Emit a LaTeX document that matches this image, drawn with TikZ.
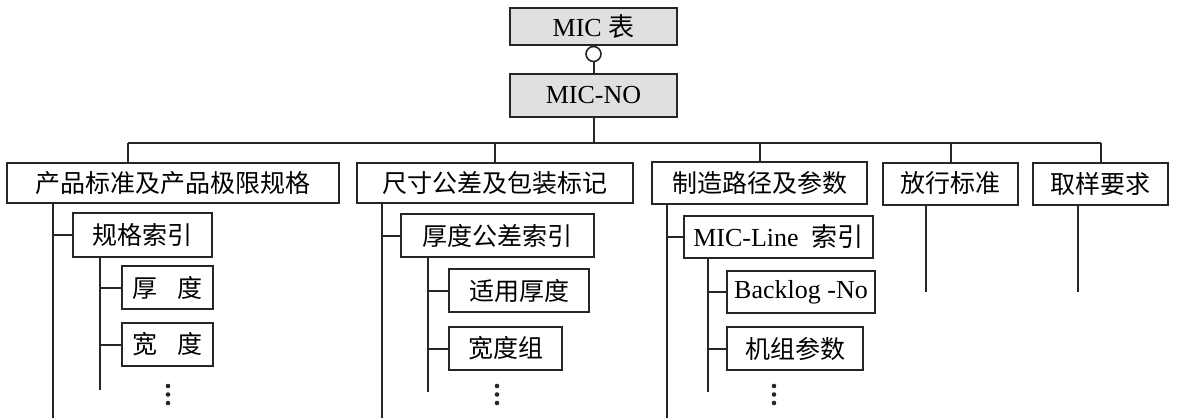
\documentclass[tikz,border=0pt]{standalone}
\usepackage{fontspec}
\setmainfont{Liberation Serif}
\newfontfamily\cjk{Noto Sans CJK SC}
\begin{document}
\begin{tikzpicture}[x=1pt,y=-1pt,
  box/.style={draw=black!85,line width=2pt,inner sep=0pt,align=center,
    font=\fontsize{25}{28}\selectfont\cjk},
  latinbox/.style={box,font=\fontsize{26}{28}\selectfont\rmfamily},
  headbox/.style={box,fill=black!12,font=\fontsize{26}{28}\selectfont\rmfamily},
  link/.style={line width=2pt,draw=black!85}]
\useasboundingbox (0,0) rectangle (1195,418);
% top
\node[headbox,minimum width=167pt,minimum height=37pt] (mic) at (593.5,26.5) {MIC {\cjk 表}};
\node[draw=black!85,line width=1.6pt,circle,inner sep=0pt,minimum size=15pt,fill=white] (ring) at (593.5,54) {};
\node[headbox,minimum width=167pt,minimum height=43pt] (micno) at (593.5,95.5) {MIC-NO};
\draw[link] (ring) -- (micno.north);
% level 1
\node[box,minimum width=332pt,minimum height=40pt] (b1) at (173,183) {产品标准及产品极限规格};
\node[box,minimum width=276pt,minimum height=40pt] (b2) at (495,183) {尺寸公差及包装标记};
\node[box,minimum width=215pt,minimum height=42pt] (b3) at (759.5,183) {制造路径及参数};
\node[box,minimum width=135pt,minimum height=42pt] (b4) at (950.5,183.5) {放行标准};
\node[box,minimum width=135pt,minimum height=42pt] (b5) at (1100.5,183.5) {取样要求};
\coordinate (bar) at (593.5,143);
\coordinate (j1) at (128,143);
\coordinate (j5) at (1100.5,143);
\draw[link] (micno.south) -- (bar);
\draw[link] (j1) -- (j5);
\draw[link] (j1) -- (j1 |- b1.north);
\draw[link] (b2.north) -- (b2.north |- bar);
\draw[link] (b3.north) -- (b3.north |- bar);
\draw[link] (b4.north) -- (b4.north |- bar);
\draw[link] (b5.north) -- (j5);
% level 2
\node[box,minimum width=139pt,minimum height=44pt] (s1) at (142.5,235) {规格索引};
\node[box,minimum width=193pt,minimum height=43pt] (s2) at (497.5,235.5) {厚度公差索引};
\node[latinbox,minimum width=189pt,minimum height=42pt] (s3) at (778.5,237) {MIC-Line\ \ {\cjk 索引}};
% level 3
\node[box,minimum width=91pt,minimum height=43pt] (t11) at (167.5,287.5) {厚\hspace{0.8em}度};
\node[box,minimum width=91pt,minimum height=43pt] (t12) at (167.5,344.5) {宽\hspace{0.8em}度};
\node[box,minimum width=140pt,minimum height=43pt] (t21) at (519,290.5) {适用厚度};
\node[box,minimum width=113pt,minimum height=43pt] (t22) at (505.5,348.5) {宽度组};
\node[latinbox,minimum width=148pt,minimum height=42pt] (t31) at (801,292) {Backlog -No};
\node[box,minimum width=136pt,minimum height=43pt] (t32) at (795,348.5) {机组参数};
% spines of level 1
\coordinate (e1) at (53,418);
\coordinate (e2) at (382,418);
\coordinate (e3) at (667,418);
\coordinate (e4) at (926,292);
\coordinate (e5) at (1078,292);
\draw[link] (e1 |- b1.south) -- (e1);
\draw[link] (e2 |- b2.south) -- (e2);
\draw[link] (e3 |- b3.south) -- (e3);
\draw[link] (e4 |- b4.south) -- (e4);
\draw[link] (e5 |- b5.south) -- (e5);
\draw[link] (e1 |- s1.west) -- (s1.west);
\draw[link] (e2 |- s2.west) -- (s2.west);
\draw[link] (e3 |- s3.west) -- (s3.west);
% spines of level 2
\coordinate (f1) at (100,390);
\coordinate (f2) at (428,392);
\coordinate (f3) at (708,392);
\draw[link] (f1 |- s1.south) -- (f1);
\draw[link] (f2 |- s2.south) -- (f2);
\draw[link] (f3 |- s3.south) -- (f3);
\draw[link] (f1 |- t11.west) -- (t11.west);
\draw[link] (f1 |- t12.west) -- (t12.west);
\draw[link] (f2 |- t21.west) -- (t21.west);
\draw[link] (f2 |- t22.west) -- (t22.west);
\draw[link] (f3 |- t31.west) -- (t31.west);
\draw[link] (f3 |- t32.west) -- (t32.west);
% dots
\foreach \x in {168,497,774}{
  \foreach \y in {386,394.5,403}{
    \fill[black!85] (\x,\y) circle (2.3pt);
  }
}
\end{tikzpicture}
\end{document}
